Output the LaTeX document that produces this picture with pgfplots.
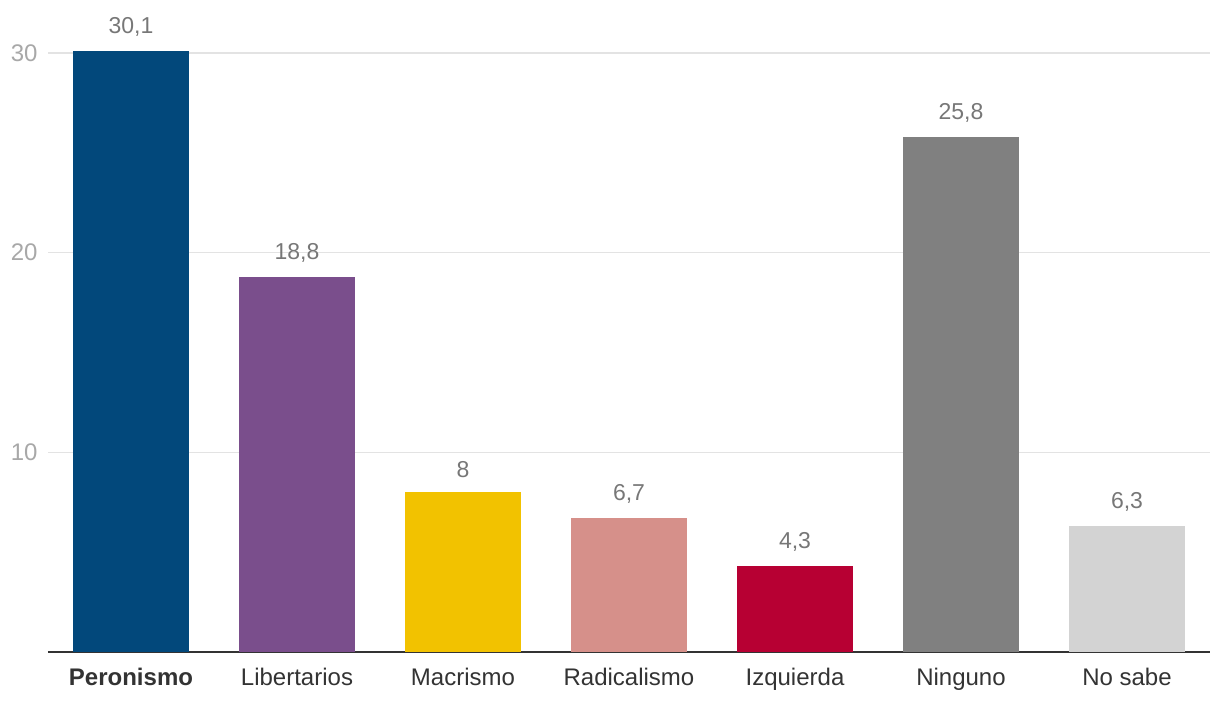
\documentclass[border=0pt]{standalone}
\usepackage{fontspec}
\setmainfont{Liberation Sans}
\usepackage{pgfplots}
\pgfplotsset{compat=1.18}

\definecolor{cPer}{HTML}{02487B}
\definecolor{cLib}{HTML}{7A4E8C}
\definecolor{cMac}{HTML}{F2C200}
\definecolor{cRad}{HTML}{D6908A}
\definecolor{cIzq}{HTML}{B70033}
\definecolor{cNin}{HTML}{808080}
\definecolor{cNos}{HTML}{D3D3D3}
\definecolor{gridc}{HTML}{E3E3E3}
\definecolor{ticky}{HTML}{A8A8A8}
\definecolor{valc}{HTML}{777777}
\definecolor{labc}{HTML}{333333}

\begin{document}
\begin{tikzpicture}[x=0.5pt,y=0.5pt]
\useasboundingbox (0,0) rectangle (1220,712);
\begin{axis}[
    at={(24pt,30pt)}, anchor=south west,
    scale only axis,
    width=581pt, height=319.5pt,
    ybar, bar width=0.7, bar shift=0pt,
    xmin=-0.5, xmax=6.5,
    ymin=0, ymax=32,
    xtick={0,...,6},
    xticklabels={\textbf{Peronismo},Libertarios,Macrismo,Radicalismo,Izquierda,Ninguno,No sabe},
    ytick={10,20,30},
    ymajorgrids,
    grid style={gridc, line width=0.6pt},
    axis x line=bottom,
    axis y line=left,
    y axis line style={draw=none},
    x axis line style={labc, line width=1pt, -},
    major tick length=0pt,
    tick style={draw=none},
    /pgf/number format/assume math mode=true,
    /pgf/number format/use comma,
    yticklabel style={font=\fontsize{12}{14}\selectfont, text=ticky, anchor=east, inner sep=0pt, xshift=-5pt},
    xticklabel style={font=\fontsize{12}{14}\selectfont, text=labc, anchor=north, inner sep=0pt, yshift=-8pt},
    nodes near coords,
    every node near coord/.append style={font=\fontsize{11.5}{13}\selectfont, text=valc, anchor=south, inner sep=0pt, yshift=7pt},
    clip=false,
]
\addplot[fill=cPer, draw=none] coordinates {(0,30.1)};
\addplot[fill=cLib, draw=none] coordinates {(1,18.8)};
\addplot[fill=cMac, draw=none] coordinates {(2,8)};
\addplot[fill=cRad, draw=none] coordinates {(3,6.7)};
\addplot[fill=cIzq, draw=none] coordinates {(4,4.3)};
\addplot[fill=cNin, draw=none] coordinates {(5,25.8)};
\addplot[fill=cNos, draw=none] coordinates {(6,6.3)};
\end{axis}
\end{tikzpicture}
\end{document}
